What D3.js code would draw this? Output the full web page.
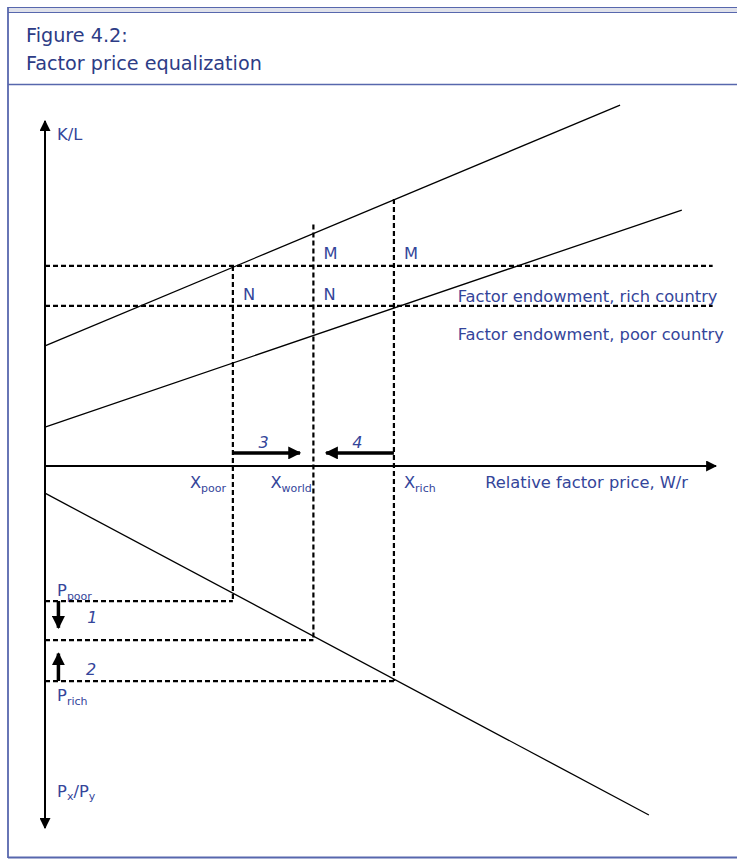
<!DOCTYPE html>
<html>
<head>
<meta charset="utf-8">
<script src="https://cdn.jsdelivr.net/npm/d3@7"></script>
<style>
  html, body { margin: 0; padding: 0; background: #fff; }
  svg { display: block; }
  text { font-family: "DejaVu Sans", Verdana, sans-serif; fill: #34459a; }
</style>
</head>
<body>
<svg id="fig" width="737" height="859"></svg>
<script>
// Schematic values (arbitrary units): relative factor price on x, K/L upward, Px/Py downward.
const countries = ["poor", "world", "rich"];
const factorPrice = [28, 40, 52];          // W/r in poor country, world, rich country
const endowmentKL = [58, 46.4];            // K/L endowment: rich country, poor country
const goodsPrice = [37.3, 48.1, 59.4];     // Px/Py: poor, world, rich
const verticalTop = [58, 70, 77.4];        // upper end of the dashed guides (K/L)
const klHighLine = [[0, 34.8], [85.7, 104.6]];
const klLowLine = [[0, 11.3], [94.9, 74.2]];
const priceLine = [[0, 7.5], [90, 96.4]];
const shiftArrows = [[28, 38], [52, 41.9]];       // arrows 3 and 4 (W/r)
const priceArrows = [[37.3, 44.7], [59.4, 51.8]]; // arrows 1 and 2 (Px/Py)
const arrowLabels = ["1", "2", "3", "4"];
const titleLines = ["Figure 4.2:", "Factor price equalization"];
const endowmentLabels = ["Factor endowment, rich country", "Factor endowment, poor country"];

const svg = d3.select("#fig");
const x = d3.scaleLinear().domain([0, 100]).range([45, 716]);
const yK = d3.scaleLinear().domain([0, 100]).range([466, 121]);
const yP = d3.scaleLinear().domain([0, 100]).range([466, 828]);

const labelSize = 16.3;
const subSize = 11;

// Frame
const border = "#5767ad";
svg.append("rect").attr("x", 8).attr("y", 8).attr("width", 740).attr("height", 4).attr("fill", "#dfe1ea");
svg.append("line").attr("x1", 8).attr("x2", 737).attr("y1", 7.5).attr("y2", 7.5).attr("stroke", border).attr("stroke-width", 1.2);
svg.append("line").attr("x1", 8).attr("x2", 737).attr("y1", 12.5).attr("y2", 12.5).attr("stroke", border).attr("stroke-width", 1.2);
svg.append("line").attr("x1", 8).attr("x2", 737).attr("y1", 84.5).attr("y2", 84.5).attr("stroke", border).attr("stroke-width", 1.5);
svg.append("line").attr("x1", 8).attr("x2", 737).attr("y1", 857.5).attr("y2", 857.5).attr("stroke", border).attr("stroke-width", 2);
svg.append("line").attr("x1", 8).attr("x2", 8).attr("y1", 7).attr("y2", 858).attr("stroke", border).attr("stroke-width", 1.8);

svg.selectAll("text.title").data(titleLines).join("text")
  .attr("class", "title")
  .attr("x", 26).attr("y", (d, i) => 42 + i * 28)
  .style("font-size", "19.2px").style("fill", "#2d3c86")
  .text(d => d);

const defs = svg.append("defs");
function marker(id, size) {
  defs.append("marker").attr("id", id)
    .attr("viewBox", "0 0 10 10").attr("refX", 9).attr("refY", 5)
    .attr("markerWidth", size).attr("markerHeight", size)
    .attr("markerUnits", "userSpaceOnUse").attr("orient", "auto")
    .append("path").attr("d", "M0,0 L10,5 L0,10 Z").attr("fill", "#000");
}
marker("axisHead", 11);
marker("shiftHead", 13);

// Axes
svg.append("line")
  .attr("x1", x(0)).attr("x2", x(0)).attr("y1", yK(0)).attr("y2", yK(100))
  .attr("stroke", "#000").attr("stroke-width", 2).attr("marker-end", "url(#axisHead)");
svg.append("line")
  .attr("x1", x(0)).attr("x2", x(0)).attr("y1", yP(0)).attr("y2", yP(100))
  .attr("stroke", "#000").attr("stroke-width", 2).attr("marker-end", "url(#axisHead)");
svg.append("line")
  .attr("x1", x(0)).attr("x2", x(100)).attr("y1", yK(0)).attr("y2", yK(0))
  .attr("stroke", "#000").attr("stroke-width", 2).attr("marker-end", "url(#axisHead)");

// Dashed guides
const dash = "5,3";
const guides = svg.append("g").attr("stroke", "#000").attr("stroke-width", 2.2).attr("stroke-dasharray", dash).attr("fill", "none");
guides.selectAll("line.endow").data(endowmentKL).join("line")
  .attr("class", "endow")
  .attr("x1", x(0)).attr("x2", x(99.5)).attr("y1", d => yK(d)).attr("y2", d => yK(d));
guides.selectAll("line.vert").data(factorPrice).join("line")
  .attr("class", "vert")
  .attr("x1", d => x(d)).attr("x2", d => x(d))
  .attr("y1", (d, i) => yK(verticalTop[i])).attr("y2", (d, i) => yP(goodsPrice[i]));
guides.selectAll("line.price").data(goodsPrice).join("line")
  .attr("class", "price")
  .attr("x1", x(0)).attr("x2", (d, i) => x(factorPrice[i])).attr("y1", d => yP(d)).attr("y2", d => yP(d));

// Solid relationships
const lineK = d3.line().x(d => x(d[0])).y(d => yK(d[1]));
const lineP = d3.line().x(d => x(d[0])).y(d => yP(d[1]));
svg.append("path").attr("d", lineK(klHighLine)).attr("stroke", "#000").attr("stroke-width", 1.3).attr("fill", "none");
svg.append("path").attr("d", lineK(klLowLine)).attr("stroke", "#000").attr("stroke-width", 1.3).attr("fill", "none");
svg.append("path").attr("d", lineP(priceLine)).attr("stroke", "#000").attr("stroke-width", 1.3).attr("fill", "none");

// Adjustment arrows
svg.selectAll("line.shift").data(shiftArrows).join("line")
  .attr("class", "shift")
  .attr("x1", d => x(d[0])).attr("x2", d => x(d[1]))
  .attr("y1", yK(3.8)).attr("y2", yK(3.8))
  .attr("stroke", "#000").attr("stroke-width", 3.5).attr("marker-end", "url(#shiftHead)");
svg.selectAll("line.pshift").data(priceArrows).join("line")
  .attr("class", "pshift")
  .attr("x1", x(2)).attr("x2", x(2))
  .attr("y1", d => yP(d[0])).attr("y2", d => yP(d[1]))
  .attr("stroke", "#000").attr("stroke-width", 3.5).attr("marker-end", "url(#shiftHead)");

// Arrow numbers
const italic = sel => sel.style("font-style", "italic").style("font-size", "16px");
svg.append("text").text(arrowLabels[0]).attr("x", x(6.3)).attr("y", yP(43.3)).call(italic);
svg.append("text").text(arrowLabels[1]).attr("x", x(6.1)).attr("y", yP(57.8)).call(italic);
svg.append("text").text(arrowLabels[2]).attr("x", x(31.8)).attr("y", yK(5.3)).call(italic);
svg.append("text").text(arrowLabels[3]).attr("x", x(45.8)).attr("y", yK(5.3)).call(italic);

const label = (tx, ty, main, sub) => {
  const t = svg.append("text").attr("x", tx).attr("y", ty).style("font-size", labelSize + "px");
  t.append("tspan").text(main);
  if (sub) t.append("tspan").attr("dy", 3.5).style("font-size", subSize + "px").text(sub);
  return t;
};

// Axis titles
label(x(1.8), yK(94.5), "K/L");
label(x(65.6), yK(-6.4), "Relative factor price, W/r");
const pxpy = svg.append("text").attr("x", x(1.8)).attr("y", yP(91.4)).style("font-size", labelSize + "px");
pxpy.append("tspan").text("P");
pxpy.append("tspan").attr("dy", 3).style("font-size", subSize + "px").text("x");
pxpy.append("tspan").attr("dy", -3).text("/P");
pxpy.append("tspan").attr("dy", 3).style("font-size", subSize + "px").text("y");

// Point labels under the W/r axis
const xLabelOffset = [-43, -43, 10];
countries.forEach((c, i) => label(x(factorPrice[i]) + xLabelOffset[i], yK(-6.4), "X", c));
label(x(1.8), yP(goodsPrice[0]) - 5, "P", countries[0]);
label(x(1.8), yP(goodsPrice[2]) + 20, "P", countries[2]);

// M / N markers
[factorPrice[1], factorPrice[2]].forEach(v => label(x(v) + 10, yK(endowmentKL[0]) - 7, "M"));
[factorPrice[0], factorPrice[1]].forEach(v => label(x(v) + 10, yK(endowmentKL[1]) - 6, "N"));

// Endowment labels
endowmentLabels.forEach((t, i) => label(x(61.5), yK(endowmentKL[1]) - 4 + i * 38, t));
</script>
</body>
</html>
